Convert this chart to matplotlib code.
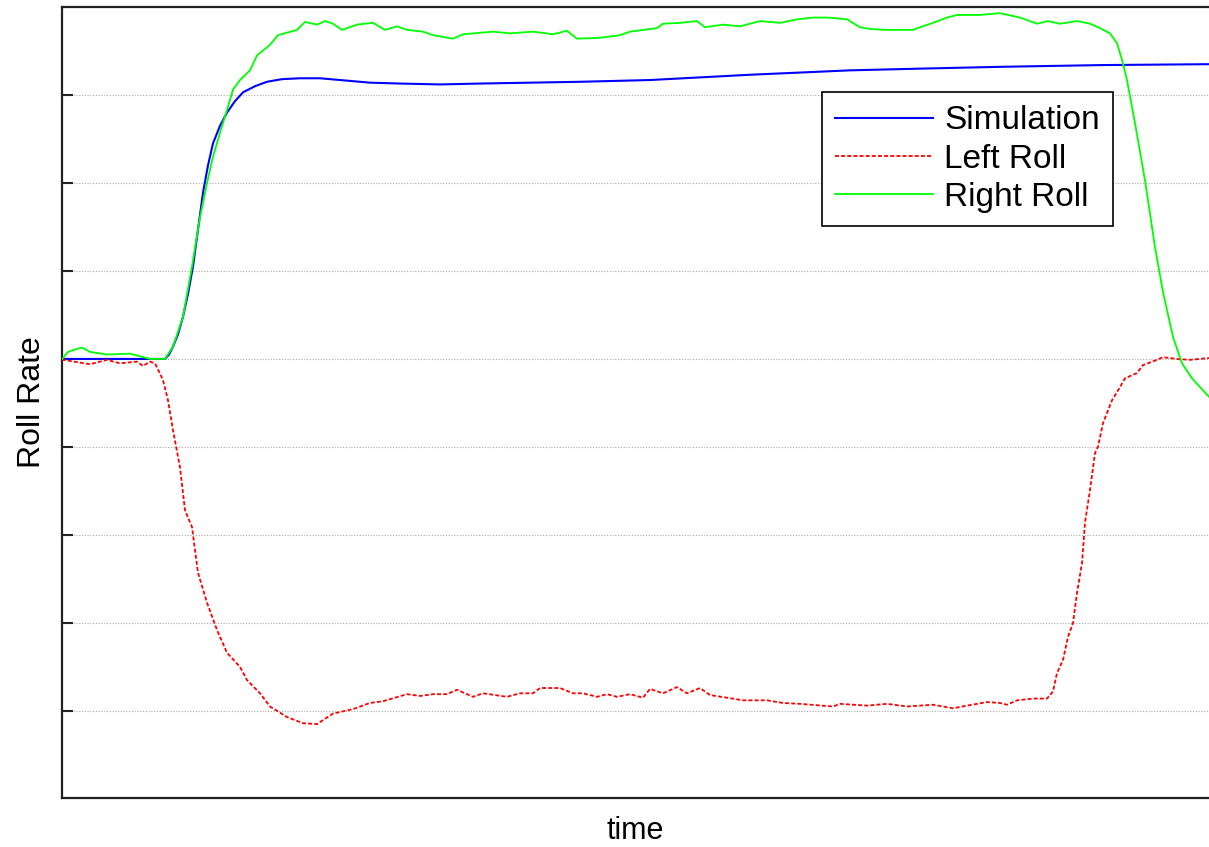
import numpy as np
import matplotlib
matplotlib.use("Agg")
import matplotlib.pyplot as plt

plt.rcParams['font.family'] = ['Liberation Sans', 'DejaVu Sans']

# Simulation (smooth model response)
sim_t = [0.00, 0.98, 1.03, 1.07, 1.11, 1.16, 1.21, 1.26, 1.31, 1.36, 1.41, 1.46, 1.51,
         1.58, 1.65, 1.73, 1.81, 1.93, 2.05, 2.20, 2.38, 2.58, 2.78, 3.08, 3.38, 3.78,
         4.18, 4.68, 5.18, 5.88, 6.88, 7.88, 8.60, 9.38, 10.40, 11.47]
sim_v = [0.00, 0.00, 0.00, 0.05, 0.14, 0.28, 0.48, 0.74, 1.05, 1.47, 1.89, 2.20, 2.45,
         2.65, 2.80, 2.93, 3.03, 3.10, 3.15, 3.18, 3.19, 3.19, 3.17, 3.14, 3.13, 3.12,
         3.13, 3.14, 3.15, 3.17, 3.23, 3.28, 3.30, 3.32, 3.34, 3.35]

# Left Roll (measured)
left_t = [0.00, 0.01, 0.28, 0.45, 0.58, 0.75, 0.81, 0.88, 0.93, 1.01, 1.06, 1.11, 1.18,
          1.23, 1.30, 1.36, 1.45, 1.55, 1.65, 1.78, 1.85, 1.98, 2.08, 2.25, 2.41, 2.55,
          2.71, 2.91, 3.08, 3.21, 3.45, 3.58, 3.71, 3.85, 3.95, 4.11, 4.21, 4.45, 4.58,
          4.71, 4.78, 4.98, 5.11, 5.21, 5.35, 5.45, 5.55, 5.68, 5.81, 5.88, 6.01, 6.15,
          6.25, 6.38, 6.48, 6.65, 6.81, 7.05, 7.21, 7.38, 7.71, 7.78, 8.05, 8.25, 8.45,
          8.71, 8.91, 9.05, 9.25, 9.38, 9.45, 9.55, 9.71, 9.85, 9.91, 9.95, 10.01, 10.06,
          10.11, 10.15, 10.20, 10.23, 10.28, 10.33, 10.36, 10.41, 10.50, 10.58, 10.63,
          10.75, 10.81, 10.95, 11.01, 11.15, 11.28, 11.47]
left_v = [0.00, -0.01, -0.06, -0.01, -0.05, -0.03, -0.08, -0.03, -0.05, -0.24, -0.47,
          -0.81, -1.23, -1.72, -1.91, -2.43, -2.77, -3.08, -3.34, -3.50, -3.65, -3.80,
          -3.95, -4.07, -4.14, -4.15, -4.03, -3.98, -3.91, -3.89, -3.81, -3.83, -3.81,
          -3.81, -3.76, -3.84, -3.80, -3.84, -3.80, -3.80, -3.74, -3.74, -3.80, -3.80,
          -3.84, -3.81, -3.84, -3.81, -3.85, -3.75, -3.80, -3.73, -3.80, -3.74, -3.82,
          -3.85, -3.88, -3.88, -3.91, -3.92, -3.95, -3.92, -3.94, -3.92, -3.95, -3.93,
          -3.97, -3.94, -3.90, -3.91, -3.93, -3.88, -3.86, -3.86, -3.78, -3.57, -3.42,
          -3.16, -3.00, -2.66, -2.32, -1.86, -1.49, -1.07, -1.00, -0.73, -0.47, -0.32,
          -0.22, -0.16, -0.07, -0.01, 0.02, 0.00, -0.01, 0.01]

# Right Roll (measured)
right_t = [0.00, 0.06, 0.11, 0.20, 0.28, 0.45, 0.68, 0.78, 0.88, 1.03, 1.11, 1.21, 1.30,
           1.38, 1.45, 1.51, 1.58, 1.65, 1.71, 1.78, 1.88, 1.95, 2.08, 2.16, 2.35, 2.43,
           2.55, 2.63, 2.71, 2.80, 2.95, 3.11, 3.23, 3.35, 3.45, 3.61, 3.71, 3.91, 4.01,
           4.31, 4.48, 4.71, 4.91, 5.05, 5.15, 5.38, 5.58, 5.68, 5.95, 6.01, 6.18, 6.35,
           6.43, 6.61, 6.78, 6.98, 7.18, 7.35, 7.51, 7.65, 7.85, 7.98, 8.08, 8.25, 8.51,
           8.58, 8.71, 8.85, 8.95, 9.18, 9.38, 9.58, 9.75, 9.86, 9.98, 10.15, 10.28,
           10.38, 10.48, 10.55, 10.60, 10.65, 10.73, 10.83, 10.93, 11.01, 11.11, 11.20,
           11.30, 11.38, 11.47]
right_v = [0.00, 0.08, 0.10, 0.13, 0.08, 0.05, 0.06, 0.03, 0.00, 0.00, 0.14, 0.48, 1.05,
           1.61, 2.00, 2.30, 2.57, 2.83, 3.06, 3.17, 3.28, 3.45, 3.57, 3.68, 3.74, 3.83,
           3.80, 3.84, 3.81, 3.74, 3.80, 3.82, 3.74, 3.78, 3.74, 3.72, 3.68, 3.64, 3.69,
           3.72, 3.70, 3.72, 3.69, 3.73, 3.64, 3.65, 3.68, 3.72, 3.76, 3.81, 3.82, 3.84,
           3.77, 3.80, 3.78, 3.84, 3.82, 3.86, 3.88, 3.88, 3.86, 3.77, 3.75, 3.74, 3.74,
           3.77, 3.82, 3.88, 3.91, 3.91, 3.93, 3.88, 3.81, 3.84, 3.81, 3.84, 3.81, 3.76,
           3.70, 3.59, 3.40, 3.17, 2.68, 2.03, 1.27, 0.76, 0.25, -0.05, -0.22, -0.32, -0.43]

grid_levels = [-4, -3, -2, -1, 0, 1, 2, 3]


fig = plt.figure(figsize=(12.09, 8.47), dpi=100)
ax = fig.add_axes([62 / 1209, 49 / 847, 1 - 62 / 1209, 791 / 847])

ax.plot(sim_t, sim_v, color="#0000ff", linewidth=1.5, label="Simulation", zorder=3)
ax.plot(left_t, left_v, color="#ff0000", linewidth=1.3, linestyle=(0, (2.2, 1.2)),
        label="Left Roll", zorder=3)
ax.plot(right_t, right_v, color="#00ff00", linewidth=1.3, label="Right Roll", zorder=3)

ax.set_xlim(0, 11.47)
ax.set_ylim(-4.99, 4.0)
ax.set_xticks([])
ax.set_yticks(grid_levels)
ax.set_yticklabels([])
ax.tick_params(axis="y", direction="in", length=8, width=1.5, color="#222222")
ax.grid(axis="y", linestyle=(0, (1, 1.5)), color="#a8a8a8", linewidth=0.8)

for side in ["left", "top", "bottom"]:
    ax.spines[side].set_linewidth(1.6)
    ax.spines[side].set_color("#222222")
ax.spines["right"].set_visible(False)

ax.set_ylabel("Roll Rate", fontsize=23, labelpad=7)
ax.set_xlabel("time", fontsize=22, labelpad=13)

leg = ax.legend(loc="upper right", bbox_to_anchor=(1113 / 1209, 1 - 92 / 847),
                bbox_transform=fig.transFigure, fontsize=24, frameon=True,
                fancybox=False, framealpha=1, edgecolor="black", handlelength=2.94,
                handletextpad=0.33, labelspacing=0.22, borderpad=0.4, borderaxespad=0)
leg.get_frame().set_linewidth(1.2)

fig.savefig("out.png", dpi=100)
